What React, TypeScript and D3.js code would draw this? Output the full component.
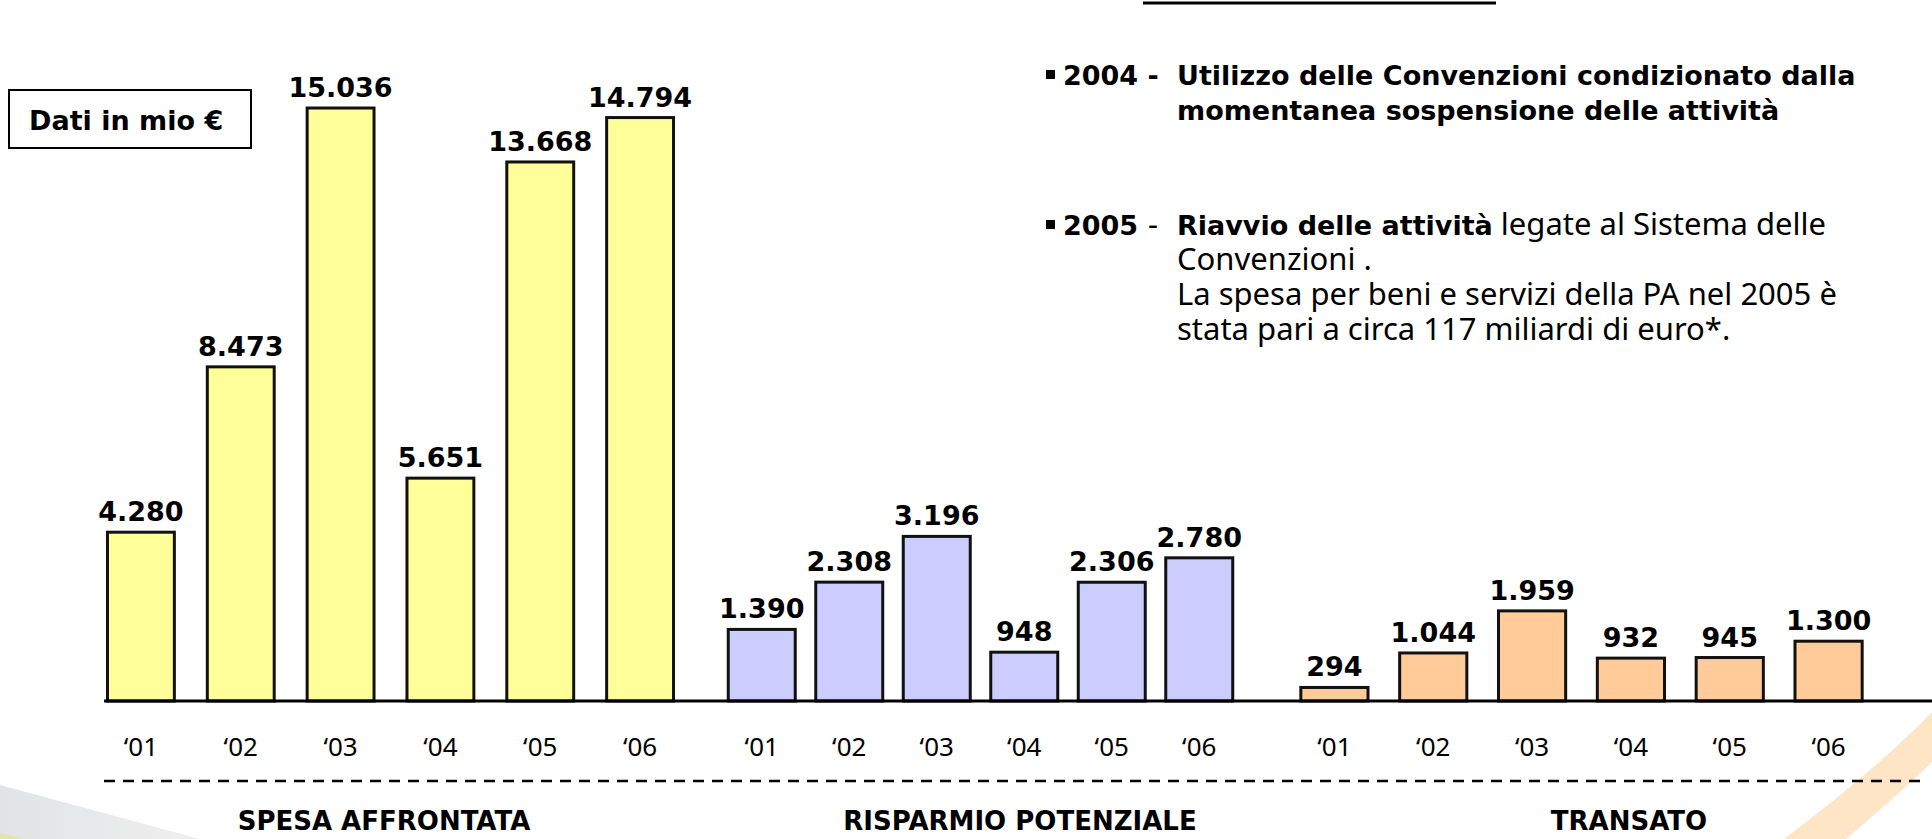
import * as d3 from 'd3';
import React, { useEffect, useRef } from 'react';

const years = ['\u201801', '\u201802', '\u201803', '\u201804', '\u201805', '\u201806'];
const spesaAffrontata = [4280, 8473, 15036, 5651, 13668, 14794];
const risparmioPotenziale = [1390, 2308, 3196, 948, 2306, 2780];
const transato = [294, 1044, 1959, 932, 945, 1300];
const groupTitles = ['SPESA AFFRONTATA', 'RISPARMIO POTENZIALE', 'TRANSATO'];
const unitLabel = 'Dati in mio \u20ac';

const W = 1932;
const H = 839;
const baseY = 701;
const BOLD = '"DejaVu Sans", sans-serif';
const REG = '"Noto Sans", sans-serif';

// one panel per group, each with its own y scale (as in the slide)
const panels = [
    { values: spesaAffrontata, title: groupTitles[0], fill: '#ffff99', range: [91, 690], pad: 0.3, yMax: 16000, top: 70, titleX: 384 },
    { values: risparmioPotenziale, title: groupTitles[1], fill: '#ccccff', range: [718, 1243], pad: 0.2, yMax: 4000, top: 495, titleX: 1020 },
    { values: transato, title: groupTitles[2], fill: '#ffcc99', range: [1285, 1878], pad: 0.29, yMax: 2000, top: 609, titleX: 1629 },
];

const itFormat = d3.formatLocale({ decimal: ',', thousands: '.', grouping: [3], currency: ['', '\u20ac'] }).format(',');

export default function App() {
    const ref = useRef<SVGSVGElement>(null);

    useEffect(() => {
        const svg = d3.select(ref.current);
        svg.selectAll('*').remove();

        // background swooshes
        const defs = svg.append('defs');
        const g1 = defs.append('linearGradient').attr('id', 'greySw').attr('x1', 0).attr('x2', 1);
        g1.append('stop').attr('offset', 0).attr('stop-color', '#e2e3e5');
        g1.append('stop').attr('offset', 1).attr('stop-color', '#efefef');
        svg.append('path').attr('d', 'M0,785 L200,839 L0,839 Z').attr('fill', 'url(#greySw)');
        svg.append('path').attr('d', 'M0,833 L24,839 L0,839 Z').attr('fill', '#dfe6a6');
        svg.append('path')
            .attr('d', 'M1932,712 Q1878,768 1784,839 L1846,839 Q1898,795 1932,762 Z')
            .attr('fill', '#fde5c6');

        // top underline
        svg.append('line').attr('x1', 1143).attr('x2', 1496).attr('y1', 3).attr('y2', 3)
            .attr('stroke', '#000').attr('stroke-width', 3);

        // unit box
        svg.append('rect').attr('x', 9).attr('y', 90).attr('width', 242).attr('height', 58)
            .attr('fill', 'none').attr('stroke', '#000').attr('stroke-width', 2);
        svg.append('text').attr('x', 29).attr('y', 130).text(unitLabel)
            .attr('font-family', BOLD).attr('font-weight', 'bold').attr('font-size', 27);

        panels.forEach(p => {
            const x = d3.scaleBand().domain(years).range(p.range).paddingInner(p.pad).paddingOuter(p.pad / 2);
            const y = d3.scaleLinear().domain([0, p.yMax]).range([baseY, p.top]);
            const g = svg.append('g');

            g.selectAll('rect').data(p.values).join('rect')
                .attr('x', (d, i) => x(years[i]) + 1.5)
                .attr('y', d => y(d))
                .attr('width', x.bandwidth() - 3)
                .attr('height', d => baseY - y(d))
                .attr('fill', p.fill)
                .attr('stroke', '#111')
                .attr('stroke-width', 3);

            g.selectAll('text.val').data(p.values).join('text')
                .attr('class', 'val')
                .attr('x', (d, i) => x(years[i]) + x.bandwidth() / 2)
                .attr('y', d => y(d) - 11)
                .attr('text-anchor', 'middle')
                .attr('font-family', BOLD).attr('font-weight', 'bold').attr('font-size', 27)
                .text(d => itFormat(d));

            const ax = svg.append('g')
                .attr('transform', `translate(0, ${baseY})`)
                .call(d3.axisBottom(x).tickSize(0).tickPadding(37));
            ax.select('.domain').remove();
            ax.attr('font-family', REG).attr('font-size', 26);
            ax.selectAll('text').attr('fill', '#000');

            svg.append('text').attr('x', p.titleX).attr('y', 830).attr('text-anchor', 'middle')
                .attr('font-family', BOLD).attr('font-weight', 'bold').attr('font-size', 26)
                .text(p.title);
        });

        // baseline
        svg.append('line').attr('x1', 104).attr('x2', W).attr('y1', baseY).attr('y2', baseY)
            .attr('stroke', '#000').attr('stroke-width', 3);

        // dashed separator
        svg.append('line').attr('x1', 104).attr('x2', 1925).attr('y1', 781).attr('y2', 781)
            .attr('stroke', '#000').attr('stroke-width', 2.5).attr('stroke-dasharray', '11 8');

        // notes on the right
        const notes = svg.append('g');
        const bold = (t, xx, yy) => notes.append('text').attr('x', xx).attr('y', yy)
            .attr('font-family', BOLD).attr('font-weight', 'bold').attr('font-size', 27).text(t);
        const reg = (t, xx, yy) => notes.append('text').attr('x', xx).attr('y', yy)
            .attr('font-family', REG).attr('font-size', 31).text(t);

        notes.append('rect').attr('x', 1046).attr('y', 70).attr('width', 9).attr('height', 9).attr('fill', '#000');
        bold('2004 -', 1063, 85);
        bold('Utilizzo delle Convenzioni condizionato dalla', 1177, 85);
        bold('momentanea sospensione delle attivit\u00e0', 1177, 120);

        notes.append('rect').attr('x', 1046).attr('y', 220).attr('width', 9).attr('height', 9).attr('fill', '#000');
        bold('2005', 1063, 235);
        reg('-', 1148, 235);
        const l1 = notes.append('text').attr('x', 1177).attr('y', 235);
        l1.append('tspan').attr('font-family', BOLD).attr('font-weight', 'bold').attr('font-size', 27)
            .text('Riavvio delle attivit\u00e0');
        l1.append('tspan').attr('font-family', REG).attr('font-size', 31).text(' legate al Sistema delle');
        reg('Convenzioni .', 1177, 270);
        reg('La spesa per beni e servizi della PA nel 2005 \u00e8', 1177, 305);
        reg('stata pari a circa 117 miliardi di euro*.', 1177, 340);
    }, []);

    return (
        <svg ref={ref} width={W} height={H}
            style={{ position: 'absolute', left: 0, top: 0, background: '#fff' }}></svg>
    );
}
